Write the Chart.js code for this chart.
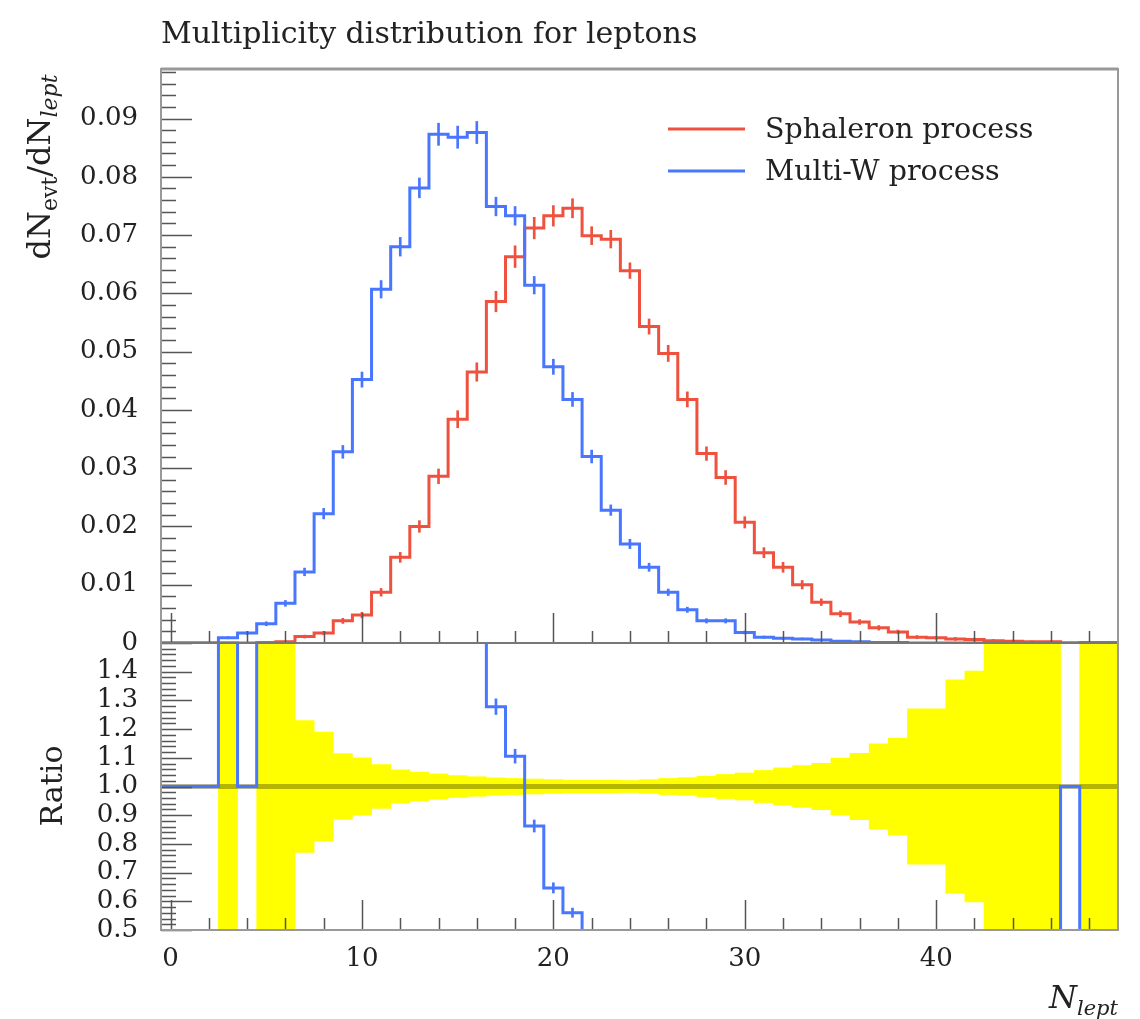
<!DOCTYPE html>
<html>
<head>
<meta charset="utf-8">
<title>Multiplicity distribution for leptons</title>
<script src="https://cdn.jsdelivr.net/npm/chart.js@4.4.1/dist/chart.umd.min.js"></script>
<style>
  html, body { margin: 0; padding: 0; background: #fff; }
  canvas { display: block; }
</style>
</head>
<body>
<canvas id="chart" width="1140" height="1019"></canvas>
<script>
// bin centres (unit-width bins)
var binCentres = [0, 1, 2, 3, 4, 5, 6, 7, 8, 9, 10, 11, 12, 13, 14, 15, 16, 17, 18, 19,
  20, 21, 22, 23, 24, 25, 26, 27, 28, 29, 30, 31, 32, 33, 34, 35, 36, 37, 38, 39,
  40, 41, 42, 43, 44, 45, 46, 47, 48, 49];

var sphaleron = [0, 0, 0, 0.00005, 0, 0.0001, 0.0002, 0.0011, 0.0017, 0.0038,
  0.0048, 0.0087, 0.0147, 0.0200, 0.0286, 0.0384, 0.0465, 0.0586, 0.0663, 0.0712,
  0.0733, 0.0746, 0.0699, 0.0693, 0.0639, 0.0543, 0.0497, 0.0418, 0.0325, 0.0284,
  0.0207, 0.0155, 0.0130, 0.0100, 0.0070, 0.0050, 0.0036, 0.0026, 0.0019, 0.0010,
  0.0009, 0.0007, 0.0006, 0.0004, 0.0003, 0.0002, 0.0002, 0, 0.0001, 0.0001];
var sphaleronErr = [0, 0, 0, 0.00003, 0, 0.00005, 0.0001, 0.00025, 0.0003, 0.00044,
  0.00048, 0.00066, 0.00085, 0.0010, 0.00126, 0.00146, 0.00158, 0.00176, 0.00186, 0.00185,
  0.00176, 0.00164, 0.00154, 0.00152, 0.00134, 0.0013, 0.00139, 0.0013, 0.00117, 0.00119,
  0.00097, 0.00087, 0.00085, 0.00073, 0.00057, 0.0005, 0.00042, 0.00039, 0.00032, 0.00027,
  0.00024, 0.00026, 0.00024, 0.0002, 0.0002, 0.00015, 0.00015, 0, 0.0001, 0.0001];

var multiW = [0, 0, 0, 0.0009, 0.0017, 0.0033, 0.0068, 0.0122, 0.0222, 0.0328,
  0.0452, 0.0607, 0.0680, 0.0781, 0.0873, 0.0868, 0.0876, 0.0749, 0.0733, 0.0614,
  0.0474, 0.0418, 0.0320, 0.0228, 0.0170, 0.0130, 0.0087, 0.0057, 0.0038, 0.0038,
  0.0018, 0.0010, 0.0008, 0.0007, 0.0005, 0.0003, 0.0002, 0.0001, 0.0001, 0,
  0, 0, 0, 0, 0, 0, 0, 0, 0, 0];
var multiWErr = [0, 0, 0, 0.00018, 0.00025, 0.00034, 0.0005, 0.00066, 0.0009, 0.0011,
  0.0013, 0.0015, 0.0016, 0.0017, 0.0019, 0.0019, 0.0019, 0.0016, 0.0016, 0.0015,
  0.0013, 0.0012, 0.0011, 0.0009, 0.0008, 0.0007, 0.00056, 0.00045, 0.00037, 0.00037,
  0.00026, 0.0002, 0.00017, 0.00016, 0.00013, 0.0001, 0.00008, 0.00008, 0.00008, 0,
  0, 0, 0, 0, 0, 0, 0, 0, 0, 0];

// relative uncertainty of the reference (yellow band), null = no band, 1 = off scale
var bandHalfWidth = [null, null, null, 1, null, 1, 1, 0.23, 0.19, 0.115,
  0.10, 0.076, 0.058, 0.05, 0.044, 0.038, 0.034, 0.03, 0.028, 0.026,
  0.024, 0.022, 0.022, 0.022, 0.021, 0.024, 0.028, 0.031, 0.036, 0.042,
  0.047, 0.056, 0.065, 0.073, 0.081, 0.099, 0.116, 0.149, 0.169, 0.271,
  0.271, 0.372, 0.402, 1, 1, 1, 1, null, 1, 1];

var xTicks = [0, 10, 20, 30, 40];
var xTickLabels = ['0', '10', '20', '30', '40'];
var yTicks = [0, 0.01, 0.02, 0.03, 0.04, 0.05, 0.06, 0.07, 0.08, 0.09];
var yTickLabels = ['0', '0.01', '0.02', '0.03', '0.04', '0.05', '0.06', '0.07', '0.08', '0.09'];
var ratioTicks = [0.5, 0.6, 0.7, 0.8, 0.9, 1.0, 1.1, 1.2, 1.3, 1.4];
var ratioTickLabels = ['0.5', '0.6', '0.7', '0.8', '0.9', '1.0', '1.1', '1.2', '1.3', '1.4'];

var redColour = 'rgb(238, 82, 62)';
var blueColour = 'rgb(72, 118, 255)';
var serif = "'DejaVu Serif', 'Liberation Serif', serif";

// histogram as a stepped line through the bin edges
function histPoints(values) {
  var pts = binCentres.map(function(c, i) { return { x: c - 0.5, y: values[i] }; });
  var last = binCentres.length - 1;
  pts.push({ x: binCentres[last] + 0.5, y: values[last] });
  return pts;
}
function errPoints(values, errs) {
  return binCentres.map(function(c, i) {
    if (!errs[i]) return { x: c, y: null };
    return { x: c, y: [values[i] - errs[i], values[i] + errs[i]] };
  });
}

var ratio = multiW.map(function(b, i) { return sphaleron[i] > 0 ? b / sphaleron[i] : 1; });
var ratioErr = multiWErr.map(function(e, i) { return sphaleron[i] > 0 ? e / sphaleron[i] : 0; });
var band = binCentres.map(function(c, i) {
  var h = bandHalfWidth[i];
  return { x: c, y: h === null ? null : [1 - h, 1 + h] };
});

var frameTicks = {
  id: 'frameTicks',
  afterDatasetsDraw: function(chart) {
    var ctx = chart.ctx, a = chart.chartArea;
    var sx = chart.scales.x, sy = chart.scales.y, sr = chart.scales.ratio;
    var k, p;
    ctx.save();
    ctx.strokeStyle = '#555';
    ctx.lineWidth = 1.5;
    ctx.beginPath();
    // left ticks, main panel
    for (k = 0; k * 0.002 <= 0.0985; k++) {
      p = Math.round(sy.getPixelForValue(k * 0.002)) + 0.5;
      ctx.moveTo(a.left, p);
      ctx.lineTo(a.left + (k % 5 === 0 ? 31 : 15), p);
    }
    // left ticks, ratio panel
    for (k = 0; k <= 50; k++) {
      p = Math.round(sr.getPixelForValue(0.5 + k * 0.02)) + 0.5;
      ctx.moveTo(a.left, p);
      ctx.lineTo(a.left + (k % 5 === 0 ? 31 : 15), p);
    }
    // bottom ticks of both panels
    [sy.bottom, sr.bottom].forEach(function(base) {
      for (k = 0; k <= 24; k++) {
        p = Math.round(sx.getPixelForValue(k * 2)) + 0.5;
        ctx.moveTo(p, base);
        ctx.lineTo(p, base - (k % 5 === 0 ? 30 : 12));
      }
    });
    ctx.stroke();
    // panel divider and frame
    ctx.strokeStyle = '#777';
    ctx.lineWidth = 2;
    ctx.beginPath();
    ctx.moveTo(a.left, sy.bottom);
    ctx.lineTo(a.right, sy.bottom);
    ctx.stroke();
    ctx.strokeStyle = '#999';
    ctx.strokeRect(a.left, a.top, a.right - a.left, a.bottom - a.top);
    ctx.lineWidth = 3;
    ctx.beginPath();
    ctx.moveTo(a.left, a.top);
    ctx.lineTo(a.right, a.top);
    ctx.stroke();
    ctx.restore();
  },
  afterDraw: function(chart) {
    var ctx = chart.ctx;
    ctx.save();
    ctx.fillStyle = '#222';
    ctx.textBaseline = 'alphabetic';
    // title
    ctx.font = '30px ' + serif;
    ctx.textAlign = 'left';
    ctx.fillText('Multiplicity distribution for leptons', 161, 43);
    // legend
    [[redColour, 'Sphaleron process', 129], [blueColour, 'Multi-W process', 171]].forEach(function(it) {
      ctx.strokeStyle = it[0];
      ctx.lineWidth = 3;
      ctx.beginPath();
      ctx.moveTo(668, it[2]);
      ctx.lineTo(745, it[2]);
      ctx.stroke();
      ctx.font = '28.5px ' + serif;
      ctx.fillText(it[1], 765, it[2] + 9);
    });
    // y title with subscripts
    var parts = [['dN', '32px ' + serif, 0], ['evt', '22px ' + serif, 7],
                 ['/dN', '32px ' + serif, 0], ['lept', 'italic 22px ' + serif, 7]];
    var total = 0;
    parts.forEach(function(pt) { ctx.font = pt[1]; total += ctx.measureText(pt[0]).width; });
    ctx.save();
    ctx.translate(50, 167);
    ctx.rotate(-Math.PI / 2);
    var x = -total / 2;
    parts.forEach(function(pt) {
      ctx.font = pt[1];
      ctx.fillText(pt[0], x, pt[2]);
      x += ctx.measureText(pt[0]).width;
    });
    ctx.restore();
    // ratio title
    ctx.save();
    ctx.translate(62, 786);
    ctx.rotate(-Math.PI / 2);
    ctx.font = '30px ' + serif;
    ctx.textAlign = 'center';
    ctx.fillText('Ratio', 0, 0);
    ctx.restore();
    // x title
    ctx.font = 'italic 21px ' + serif;
    var wSub = ctx.measureText('lept').width;
    ctx.fillText('lept', 1118 - wSub, 1015);
    ctx.font = 'italic 32px ' + serif;
    var wN = ctx.measureText('N').width;
    ctx.fillText('N', 1118 - wSub - wN, 1008);
    ctx.restore();
  }
};

function fixedTicks(values) {
  return function(scale) { scale.ticks = values.map(function(v) { return { value: v }; }); };
}

new Chart(document.getElementById('chart'), {
  type: 'line',
  data: {
    datasets: [
      { label: 'Multi-W errors', type: 'bar', data: errPoints(multiW, multiWErr), yAxisID: 'y',
        backgroundColor: blueColour, barThickness: 2, grouped: false, order: 0 },
      { label: 'Multi-W process', data: histPoints(multiW), yAxisID: 'y', stepped: true,
        borderColor: blueColour, borderWidth: 3, pointRadius: 0, fill: false, order: 1 },
      { label: 'Sphaleron errors', type: 'bar', data: errPoints(sphaleron, sphaleronErr), yAxisID: 'y',
        backgroundColor: redColour, barThickness: 2, grouped: false, order: 2 },
      { label: 'Sphaleron process', data: histPoints(sphaleron), yAxisID: 'y', stepped: true,
        borderColor: redColour, borderWidth: 3, pointRadius: 0, fill: false, order: 3 },
      { label: 'Ratio errors', type: 'bar', data: errPoints(ratio, ratioErr), yAxisID: 'ratio',
        backgroundColor: blueColour, barThickness: 2, grouped: false, order: 4 },
      { label: 'Ratio', data: histPoints(ratio), yAxisID: 'ratio', stepped: true,
        borderColor: blueColour, borderWidth: 3, pointRadius: 0, fill: false, order: 5 },
      { label: 'Reference', data: [{ x: -0.5, y: 1 }, { x: 49.5, y: 1 }], yAxisID: 'ratio',
        borderColor: 'rgba(60, 60, 0, 0.38)', borderWidth: 5, pointRadius: 0, fill: false, order: 6 },
      { label: 'Band', type: 'bar', data: band, yAxisID: 'ratio', backgroundColor: '#ffff00',
        barPercentage: 1, categoryPercentage: 1, grouped: false, borderWidth: 0, order: 7 }
    ]
  },
  options: {
    responsive: false,
    animation: false,
    layout: { padding: { top: 69, right: 22, left: 0, bottom: 0 } },
    plugins: { legend: { display: false }, tooltip: { enabled: false } },
    scales: {
      x: {
        type: 'linear', min: -0.5, max: 49.5, offset: false,
        grid: { display: false, offset: false, drawTicks: false }, border: { display: false },
        afterBuildTicks: fixedTicks(xTicks),
        afterFit: function(s) { s.height = 89; },
        ticks: {
          autoSkip: false, maxRotation: 0, padding: 14, color: '#222',
          font: { family: serif, size: 26 },
          callback: function(v, i) { return xTickLabels[i]; }
        }
      },
      y: {
        type: 'linear', min: 0, max: 0.0985, position: 'left', stack: 'panels', stackWeight: 2, weight: 1,
        grid: { display: false }, border: { display: false },
        afterBuildTicks: fixedTicks(yTicks),
        afterFit: function(s) { s.width = 161; },
        ticks: {
          autoSkip: false, padding: 15, color: '#222',
          font: { family: serif, size: 26 },
          callback: function(v, i) { return yTickLabels[i]; }
        }
      },
      ratio: {
        type: 'linear', min: 0.5, max: 1.5, position: 'left', stack: 'panels', stackWeight: 1, weight: 0,
        grid: { display: false }, border: { display: false },
        afterBuildTicks: fixedTicks(ratioTicks),
        afterFit: function(s) { s.width = 161; },
        ticks: {
          autoSkip: false, padding: 15, color: '#222',
          font: { family: serif, size: 26 },
          callback: function(v, i) { return ratioTickLabels[i]; }
        }
      }
    }
  },
  plugins: [frameTicks]
});
</script>
</body>
</html>
